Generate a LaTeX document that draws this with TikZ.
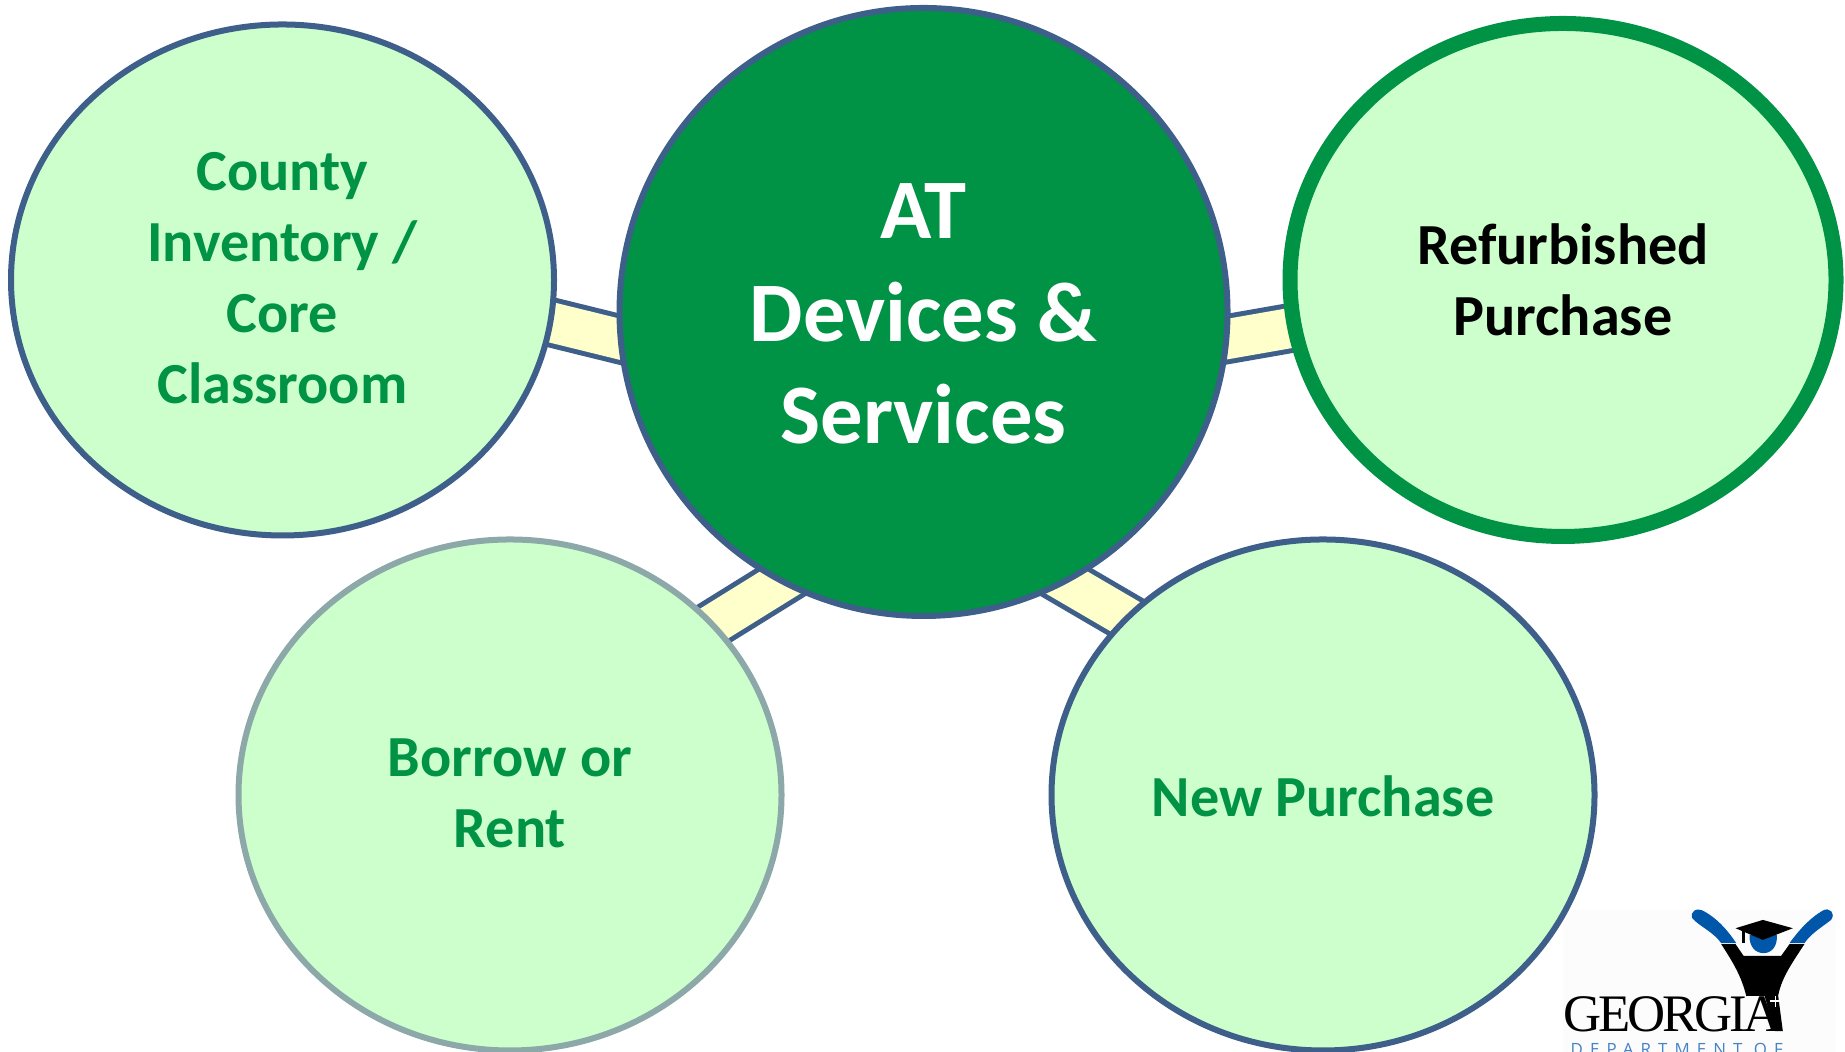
\documentclass[tikz,border=0pt]{standalone}
\usepackage{fontspec}
\setmainfont{Carlito}
\newfontfamily\logoserif[LetterSpace=-6]{Liberation Serif}
\newfontfamily\logosans[LetterSpace=42]{Open Sans}
\usetikzlibrary{shapes.geometric, backgrounds}
\definecolor{atgreen}{RGB}{0,146,69}
\definecolor{atmint}{RGB}{204,255,204}
\definecolor{atcream}{RGB}{255,255,204}
\definecolor{atblue}{RGB}{62,95,138}
\definecolor{atgray}{RGB}{140,168,168}
\definecolor{logoblue}{RGB}{0,86,168}
\definecolor{logotext}{RGB}{70,130,200}
\tikzset{
	option/.style={draw=atblue, fill=atmint, ellipse, line width=0.06cm, inner sep=0pt, align=center,
		minimum width=5.43cm, minimum height=5.11cm, text=atgreen,
		font=\fontsize{16.55}{20.2}\selectfont\bfseries},
	hub/.style={draw=atblue, fill=atgreen, circle, line width=0.06cm, inner sep=0pt, align=center,
		minimum size=6.08cm, text=white, font=\fontsize{24.1}{29.2}\selectfont\bfseries},
	link/.style={draw=atblue, line width=0.05cm, double=atcream, double distance=0.40cm,
		shorten >=-0.4cm, shorten <=-0.4cm}
}
\begin{document}
\begin{tikzpicture}
	\useasboundingbox (0,0) rectangle (18.45,10.52);
	% Nodes
	\node[hub] (hubnode) at (9.235,7.40) {\rule{0pt}{16.8pt}AT\\Devices \&\\Services};
	\node[option] (county) at (2.825,7.72) {County\\Inventory /\\Core\\\rule[-1.3pt]{0pt}{1pt}Classroom};
	\node[option, draw=atgreen, line width=0.15cm, minimum width=5.46cm, minimum height=5.13cm, text=black] (refurbished) at (15.63,7.72) {Refurbished\\Purchase};
	\node[option, draw=atgray] (borrow) at (5.10,2.57) {Borrow or\\\rule[-1.3pt]{0pt}{1pt}Rent};
	\node[option] (newpurchase) at (13.23,2.57) {\rule{0pt}{12.6pt}New Purchase};
	% Links
	\begin{scope}[on background layer]
		\draw[link] (hubnode.185.1) -- (county.-9.7);
		\draw[link] (hubnode.-5.8) -- (refurbished.190.3);
		\draw[link] (hubnode.242.2) -- (borrow.40);
		\draw[link] (hubnode.-62.8) -- (newpurchase.138.5);
	\end{scope}
	% Logo
	\begin{scope}[shift={(15.40,1.62)}, x=0.00333cm, y=-0.00333cm]
		\begin{scope}[on background layer]
			\fill[white!99!black] (68,60) rectangle (890,486);
		\end{scope}
		\fill[logoblue] (458,85) .. controls (480,110) and (520,125) .. (545,160) -- (590,160)
			.. controls (560,115) and (530,85) .. (495,65) .. controls (470,50) and (450,65) .. (458,85) -- cycle;
		\fill[logoblue] (750,160) -- (795,160) .. controls (815,130) and (850,110) .. (875,90)
			.. controls (890,70) and (870,50) .. (850,62) .. controls (810,85) and (775,125) .. (750,160) -- cycle;
		\fill[logoblue] (630,135) -- (712,135) .. controls (715,170) and (695,190) .. (672,190)
			.. controls (648,190) and (628,170) .. (630,135) -- cycle;
		\fill[black] (588,115) -- (670,90) -- (760,115) -- (670,150) -- cycle;
		\draw[black, line width=0.03cm] (612,118) -- (612,160);
		\fill[black] (545,163) -- (588,163) -- (612,198) -- (725,198) -- (750,163) -- (795,163)
			.. controls (750,230) and (725,270) .. (716,318) -- (730,424) -- (706,424) -- (675,318) -- (620,318)
			.. controls (605,260) and (585,225) .. (545,163) -- cycle;
		\node[anchor=base west, inner sep=0pt, text=black, font=\logoserif\fontsize{15}{15}\selectfont] (logoname) at (68,425) {GEORGIA};
		\node[anchor=base west, inner sep=0pt, text=logotext, font=\logosans\fontsize{4.8}{5}\selectfont] (logodept) at (90,497) {DEPARTMENT OF};
		\draw[white, line width=0.015cm] (708,318) -- (708,352) (692,334) -- (724,334);
	\end{scope}
\end{tikzpicture}
\end{document}
